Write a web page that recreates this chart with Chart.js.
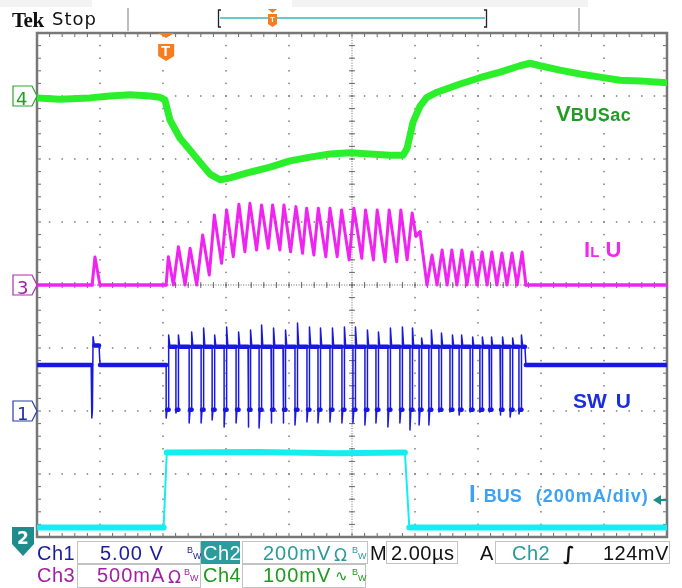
<!DOCTYPE html>
<html>
<head>
<meta charset="utf-8">
<title>Tek capture</title>
<script src="https://cdn.jsdelivr.net/npm/chart.js@4/dist/chart.umd.min.js"></script>
<style>
  html, body { margin: 0; padding: 0; background: #fff; }
  #wrap { position: relative; width: 682px; height: 588px; overflow: hidden; }
  #scope { position: absolute; left: 0; top: 0; }
  .t { position: absolute; white-space: nowrap; line-height: 1; font-family: "Liberation Sans", Arial, sans-serif; }
  .st { font-size: 20px; letter-spacing: 0.5px; }
  .box { position: absolute; border: 1px solid #c2c2c2; box-sizing: border-box; }
  .bw { position: absolute; line-height: 1; font: 9px "Liberation Sans", Arial, sans-serif; }
  .lbl { font-weight: bold; }
</style>
</head>
<body>
<div id="wrap">
  <canvas id="scope" width="682" height="588"></canvas>

  <!-- header -->
  <div class="t" style="left:12px;top:8px;font:bold 21px 'Liberation Serif',serif;letter-spacing:-0.5px;color:#111">Tek</div>
  <div class="t" style="left:52px;top:10px;font-size:18px;font-family:'DejaVu Sans',sans-serif;letter-spacing:1px;color:#111">Stop</div>
  <div class="t" style="left:270px;top:15px;font:bold 8px 'Liberation Sans',sans-serif;color:#fff">T</div>
  <div class="t" style="left:161px;top:42px;font:bold 15px 'Liberation Sans',sans-serif;color:#fff">T</div>

  <!-- channel markers -->
  <div class="t" style="left:16px;top:88px;font:18px 'DejaVu Sans',sans-serif;color:#22a022">4</div>
  <div class="t" style="left:17px;top:277px;font:18px 'DejaVu Sans',sans-serif;color:#a21ea2">3</div>
  <div class="t" style="left:17px;top:403px;font:18px 'DejaVu Sans',sans-serif;color:#2030a0">1</div>
  <div class="t" style="left:17px;top:528px;font:bold 17px 'DejaVu Sans',sans-serif;color:#fff">2</div>

  <!-- trace labels -->
  <div class="t lbl" style="left:556px;top:103px;font-size:22px;color:#249b24">V<span style="font-size:18px;letter-spacing:0.5px">BUSac</span></div>
  <div class="t lbl" style="left:584px;top:239px;font-size:22px;color:#ee2aee">I<span style="font-size:15px">L</span> U</div>
  <div class="t lbl" style="left:573px;top:390px;font-size:21px;color:#1a2ee0">SW <span style="margin-left:3px">U</span></div>
  <div class="t lbl" style="left:469px;top:482px;font-size:24px;color:#3ea2f2">I<span style="font-size:18px;margin-left:8px">BUS</span><span style="font-size:18px;margin-left:14px;letter-spacing:1px">(200mA/div)</span></div>

  <!-- status bar, row 1 -->
  <div class="t st" style="left:37px;top:543px;color:#1c1c9a">Ch1</div>
  <div class="box" style="left:77px;top:541px;width:124px;height:23px"></div>
  <div class="t st" style="left:100px;top:543px;color:#1c1c9a;letter-spacing:1px">5.00 V</div>
  <div class="bw" style="left:187px;top:545px;color:#1c1c9a">B</div>
  <div class="bw" style="left:193px;top:551px;color:#1c1c9a">W</div>
  <div style="position:absolute;left:201px;top:541px;width:39px;height:23px;background:#2b9b9b"></div>
  <div class="t st" style="left:203px;top:543px;color:#fff">Ch2</div>
  <div class="box" style="left:242px;top:541px;width:126px;height:23px"></div>
  <div class="t st" style="left:263px;top:543px;color:#2a9a9a;letter-spacing:1px">200mV</div>
  <div class="t" style="left:334px;top:545px;font:17px 'DejaVu Sans',sans-serif;color:#2a9a9a">Ω</div>
  <div class="bw" style="left:352px;top:545px;color:#2a9a9a">B</div>
  <div class="bw" style="left:358px;top:551px;color:#2a9a9a">W</div>
  <div class="t st" style="left:370px;top:543px;color:#111">M</div>
  <div class="box" style="left:386px;top:541px;width:72px;height:23px"></div>
  <div class="t st" style="left:391px;top:543px;color:#111">2.00µs</div>
  <div class="t st" style="left:480px;top:543px;color:#111">A</div>
  <div class="box" style="left:495px;top:541px;width:175px;height:23px"></div>
  <div class="t st" style="left:512px;top:543px;color:#2a9a9a">Ch2</div>
  <div class="t" style="left:563px;top:542px;font:bold 19px 'DejaVu Sans',sans-serif;color:#111">∫</div>
  <div class="t st" style="left:603px;top:543px;color:#111">124mV</div>

  <!-- status bar, row 2 -->
  <div class="t st" style="left:37px;top:565px;color:#a21ea2">Ch3</div>
  <div class="box" style="left:77px;top:564px;width:124px;height:24px"></div>
  <div class="t st" style="left:97px;top:565px;color:#a21ea2;letter-spacing:1px">500mA</div>
  <div class="t" style="left:168px;top:567px;font:17px 'DejaVu Sans',sans-serif;color:#a21ea2">Ω</div>
  <div class="bw" style="left:184px;top:567px;color:#a21ea2">B</div>
  <div class="bw" style="left:190px;top:573px;color:#a21ea2">W</div>
  <div class="t st" style="left:203px;top:565px;color:#1e9a1e">Ch4</div>
  <div class="box" style="left:242px;top:564px;width:124px;height:24px"></div>
  <div class="t st" style="left:263px;top:565px;color:#1e9a1e;letter-spacing:1px">100mV</div>
  <div class="t" style="left:335px;top:567px;font:15px 'DejaVu Sans',sans-serif;color:#1e9a1e">∿</div>
  <div class="bw" style="left:352px;top:567px;color:#1e9a1e">B</div>
  <div class="bw" style="left:358px;top:573px;color:#1e9a1e">W</div>
</div>

<script>
// time base: 2.00 µs/div, 10 x 8 divisions on screen
const usPerDiv = 2;
const divsX = 10;
const divsY = 8;

// Ch4  VBUSac, mV (100 mV/div)
const vbusTime = [0, 0.73, 1.68, 2.32, 2.95, 3.59, 3.90, 4.06, 4.22, 4.54, 4.86, 5.17, 5.49, 5.81, 6.13,
  6.76, 7.40, 8.03, 8.67, 9.30, 9.94, 10.57, 11.21, 11.62, 11.75, 11.94, 12.16, 12.38, 12.70,
  13.43, 14.06, 14.70, 15.33, 15.65, 15.97, 16.60, 17.24, 17.87, 18.51, 19.14, 20];
const vbusMv = [-3, -5, -3, 0, 2, 0, -2, -6, -38, -67, -86, -105, -124, -133, -130,
  -121, -113, -103, -97, -92, -90, -92, -94, -94, -83, -41, -16, -2, 6,
  19, 29, 38, 48, 52, 48, 41, 35, 30, 25, 24, 21];

// Ch3  IL U, mA (500 mA/div) - corners of the ripple
const ilTime = [0, 1.75, 1.84, 2.00, 4.10,
  4.17, 4.33, 4.49, 4.70, 4.86, 5.07, 5.26, 5.47, 5.63, 5.86, 6.02, 6.23, 6.41, 6.60, 6.76, 6.97,
  7.13, 7.34, 7.48, 7.71, 7.84, 8.05, 8.22, 8.43, 8.56, 8.79, 8.93, 9.17, 9.30, 9.53, 9.67, 9.91,
  10.06, 10.31, 10.43, 10.68, 10.80, 11.05, 11.18, 11.42, 11.55, 11.75, 11.91, 12.03, 12.16, 12.38,
  12.54, 12.70, 12.86, 13.02, 13.17, 13.33, 13.49, 13.65, 13.81, 13.97, 14.13, 14.29, 14.44, 14.60,
  14.76, 14.92, 15.08, 15.24, 15.40, 15.52, 20];
const ilMa = [0, 0, 222, 0, 0,
  225, 0, 304, 0, 291, 0, 397, 79, 556, 172, 596, 225, 641, 264, 648, 278,
  635, 291, 635, 278, 635, 264, 622, 252, 609, 238, 609, 225, 609, 225, 596, 199,
  609, 212, 596, 199, 596, 185, 596, 185, 596, 200, 572, 389, 421, 0,
  238, 0, 278, 0, 278, 0, 278, 0, 262, 0, 262, 0, 262, 0,
  254, 0, 254, 0, 262, 0, 0];

// Ch1  SW U, V (5 V/div)
const swPreTime = [0, 1.72, 1.74, 1.76, 1.78, 1.82, 1.97, 2.00, 4.08];
const swPreV = [3.65, 3.65, -0.55, 0.1, 5.9, 5.2, 5.2, 3.65, 3.65];
const swFall = [4.10, 4.41, 4.83, 5.21, 5.56, 5.94, 6.32, 6.70, 7.05, 7.43, 7.81, 8.19, 8.57, 8.92,
  9.30, 9.68, 10.03, 10.41, 10.76, 11.14, 11.52, 11.84, 12.13, 12.44, 12.76, 13.11, 13.40, 13.75,
  14.06, 14.35, 14.70, 15.02, 15.30];
const swTop = [6.03, 6.03, 6.27, 6.59, 6.03, 6.67, 6.27, 6.43, 6.83, 6.59, 6.43, 6.99, 6.67, 6.59,
  6.59, 6.67, 6.67, 6.43, 6.27, 6.59, 6.67, 6.59, 5.80, 6.43, 6.19, 6.03, 6.03, 5.88,
  5.88, 5.88, 5.88, 5.80, 6.03];
const swBottom = [-0.56, -0.16, -0.95, -0.95, -0.71, -1.27, -0.95, -1.27, -1.35, -0.95, -0.95, -1.11, -0.87, -0.95,
  -0.87, -0.95, -0.95, -1.11, -0.95, -1.27, -0.95, -1.51, -1.11, -1.11, -0.08, -0.08, -0.32, -0.08,
  -0.10, -0.08, -0.32, -0.48, -0.24];
const swIdle = 3.65, swHigh = 5.1, swLow = 0.1;
const swPostTime = [15.49, 15.52, 20];
const swPostV = [5.1, 3.65, 3.65];

// Ch2  IBUS, mA (200 mA/div)
const ibusTime = [0, 4.02, 4.12, 7.0, 9.5, 11.68, 11.82, 20];
const ibusMa = [0, 0, 238, 240, 236, 238, 0, 0];

// ground reference (divisions from screen bottom) and units per division
const ch1 = { offset: 2, perDiv: 5 };
const ch2 = { offset: 0.15, perDiv: 200 };
const ch3 = { offset: 4, perDiv: 500 };
const ch4 = { offset: 7, perDiv: 100 };

function toScreen(times, values, ch) {
    return times.map((t, i) => ({ x: t, y: ch.offset + values[i] / ch.perDiv }));
}

function swPoints() {
    const pts = toScreen(swPreTime, swPreV, ch1);
    const add = (t, v) => pts.push({ x: t, y: ch1.offset + v / ch1.perDiv });
    swFall.forEach((tf, i) => {
        add(tf, i === 0 ? swIdle : swHigh);
        add(tf, swBottom[i]);
        add(tf + 0.03, swLow);
        add(tf + 0.08, swLow);
        add(tf + 0.08, swTop[i]);
        add(tf + 0.12, swHigh);
    });
    return pts.concat(toScreen(swPostTime, swPostV, ch1));
}

// steep parts of a trace are drawn thin, flat parts carry the noise band
const steep = ctx => Math.abs(ctx.p1.y - ctx.p0.y) > 2 * Math.abs(ctx.p1.x - ctx.p0.x);

const graticule = {
    id: "graticule",
    beforeDatasetsDraw(chart) {
        const { ctx, chartArea: a, scales: { x, y } } = chart;
        const gx = d => x.getPixelForValue(d * usPerDiv);
        const gy = d => y.getPixelForValue(d);
        ctx.save();

        // dotted division lines
        ctx.fillStyle = "#7c7c7c";
        for (let i = 1; i < divsX; i++)
            for (let k = 1; k < divsY * 5; k++) ctx.fillRect(gx(i) - 0.75, gy(k / 5) - 0.75, 1.5, 1.5);
        for (let j = 1; j < divsY; j++)
            for (let k = 1; k < divsX * 5; k++) ctx.fillRect(gx(k / 5) - 0.75, gy(j) - 0.75, 1.5, 1.5);

        // centre cross: fine dots plus minor ticks
        const cx = gx(divsX / 2), cy = gy(divsY / 2);
        ctx.fillStyle = "#6a6a6a";
        for (let k = 0; k <= divsX * 25; k++) ctx.fillRect(gx(k / 25) - 0.5, cy - 0.5, 1, 1);
        for (let k = 0; k <= divsY * 25; k++) ctx.fillRect(cx - 0.5, gy(k / 25) - 0.5, 1, 1);
        ctx.strokeStyle = "#6a6a6a";
        ctx.lineWidth = 1;
        ctx.beginPath();
        for (let k = 1; k < divsX * 5; k++) { ctx.moveTo(gx(k / 5), cy - 3); ctx.lineTo(gx(k / 5), cy + 3); }
        for (let k = 1; k < divsY * 5; k++) { ctx.moveTo(cx - 3, gy(k / 5)); ctx.lineTo(cx + 3, gy(k / 5)); }
        ctx.stroke();

        // frame with inward ticks
        ctx.beginPath();
        for (let k = 1; k < divsX * 5; k++) {
            ctx.moveTo(gx(k / 5), a.top); ctx.lineTo(gx(k / 5), a.top + 4);
            ctx.moveTo(gx(k / 5), a.bottom); ctx.lineTo(gx(k / 5), a.bottom - 4);
        }
        for (let k = 1; k < divsY * 5; k++) {
            ctx.moveTo(a.left, gy(k / 5)); ctx.lineTo(a.left + 4, gy(k / 5));
            ctx.moveTo(a.right, gy(k / 5)); ctx.lineTo(a.right - 4, gy(k / 5));
        }
        ctx.stroke();
        ctx.strokeStyle = "#777";
        ctx.lineWidth = 2.5;
        ctx.strokeRect(a.left, a.top, a.right - a.left, a.bottom - a.top);
        ctx.restore();
    }
};

const scopeMarks = {
    id: "scopeMarks",
    afterDraw(chart) {
        const { ctx, scales: { x, y } } = chart;
        ctx.save();

        // header background strips and separators
        ctx.fillStyle = "#f3f3f3";
        ctx.fillRect(0, 0, 92, 7);
        ctx.fillRect(292, 0, 296, 7);
        ctx.strokeStyle = "#a8a8a8";
        ctx.lineWidth = 1.5;
        ctx.beginPath();
        ctx.moveTo(128, 8); ctx.lineTo(128, 31);
        ctx.moveTo(579, 8); ctx.lineTo(579, 31);
        ctx.stroke();

        // record bar
        ctx.strokeStyle = "#222";
        ctx.lineWidth = 1.3;
        ctx.beginPath();
        ctx.moveTo(221, 10); ctx.lineTo(218.5, 10); ctx.lineTo(218.5, 27); ctx.lineTo(221, 27);
        ctx.moveTo(484, 10); ctx.lineTo(486.5, 10); ctx.lineTo(486.5, 27); ctx.lineTo(484, 27);
        ctx.stroke();
        ctx.strokeStyle = "#3ab5bb";
        ctx.lineWidth = 1.5;
        ctx.beginPath(); ctx.moveTo(220, 18); ctx.lineTo(485, 18); ctx.stroke();
        ctx.fillStyle = "#f57c1f";
        ctx.beginPath(); ctx.moveTo(268, 9); ctx.lineTo(277, 9); ctx.lineTo(272.5, 13); ctx.closePath(); ctx.fill();
        ctx.beginPath(); ctx.moveTo(268, 14); ctx.lineTo(277, 14); ctx.lineTo(277, 24); ctx.lineTo(272.5, 27); ctx.lineTo(268, 24); ctx.closePath(); ctx.fill();

        // trigger position marker
        const tx = x.getPixelForValue(4.1);
        const top = chart.chartArea.top;
        ctx.beginPath(); ctx.moveTo(tx - 8, top); ctx.lineTo(tx + 8, top); ctx.lineTo(tx, top + 5); ctx.closePath(); ctx.fill();
        ctx.beginPath();
        ctx.moveTo(tx - 8, top + 11); ctx.lineTo(tx + 8, top + 11); ctx.lineTo(tx + 8, top + 23);
        ctx.lineTo(tx, top + 28); ctx.lineTo(tx - 8, top + 23); ctx.closePath(); ctx.fill();

        // ground markers for ch4, ch3, ch1
        [[ch4, "#2aa82a"], [ch3, "#b02cb0"], [ch1, "#2a3ab0"]].forEach(([ch, col]) => {
            const yc = y.getPixelForValue(ch.offset);
            ctx.fillStyle = "#fff";
            ctx.strokeStyle = col;
            ctx.lineWidth = 1.2;
            ctx.beginPath();
            ctx.moveTo(13, yc - 10); ctx.lineTo(32, yc - 10); ctx.lineTo(37, yc);
            ctx.lineTo(32, yc + 10); ctx.lineTo(13, yc + 10); ctx.closePath();
            ctx.fill(); ctx.stroke();
        });

        // ch2 marker (ground below screen) and trigger level arrow
        ctx.fillStyle = "#1f8c8c";
        ctx.beginPath();
        ctx.moveTo(12, 527); ctx.lineTo(34, 527); ctx.lineTo(34, 544); ctx.lineTo(23, 556); ctx.lineTo(12, 544); ctx.closePath();
        ctx.fill();
        ctx.beginPath(); ctx.moveTo(653, 500); ctx.lineTo(661, 495); ctx.lineTo(661, 505); ctx.closePath(); ctx.fill();
        ctx.strokeStyle = "#1f8c8c";
        ctx.lineWidth = 2;
        ctx.beginPath(); ctx.moveTo(659, 500); ctx.lineTo(667, 500); ctx.stroke();
        ctx.restore();
    }
};

new Chart(document.getElementById("scope"), {
    type: "line",
    data: {
        datasets: [
            {
                label: "VBUSac",
                data: toScreen(vbusTime, vbusMv, ch4),
                borderColor: "#2bef2b",
                borderWidth: 7,
                borderJoinStyle: "round",
                borderCapStyle: "round"
            },
            {
                label: "IL U",
                data: toScreen(ilTime, ilMa, ch3),
                borderColor: "#f024f0",
                borderJoinStyle: "round",
                borderCapStyle: "round",
                segment: { borderWidth: c => steep(c) ? 3 : 3.5 }
            },
            {
                label: "SW U",
                data: swPoints(),
                borderColor: "#1818e0",
                borderJoinStyle: "round",
                borderCapStyle: "round",
                segment: { borderWidth: c => steep(c) ? 1.5 : 4.5 }
            },
            {
                label: "IBUS",
                data: toScreen(ibusTime, ibusMa, ch2),
                borderColor: "#14eef0",
                borderJoinStyle: "round",
                borderCapStyle: "round",
                segment: { borderWidth: c => steep(c) ? 2 : 6 }
            }
        ]
    },
    options: {
        responsive: false,
        animation: false,
        layout: { padding: { left: 37, top: 33, right: 15, bottom: 51 } },
        elements: { point: { radius: 0 }, line: { tension: 0 } },
        plugins: { legend: { display: false }, tooltip: { enabled: false } },
        scales: {
            x: { type: "linear", min: 0, max: divsX * usPerDiv, display: false },
            y: { type: "linear", min: 0, max: divsY, display: false }
        }
    },
    plugins: [graticule, scopeMarks]
});
</script>
</body>
</html>
